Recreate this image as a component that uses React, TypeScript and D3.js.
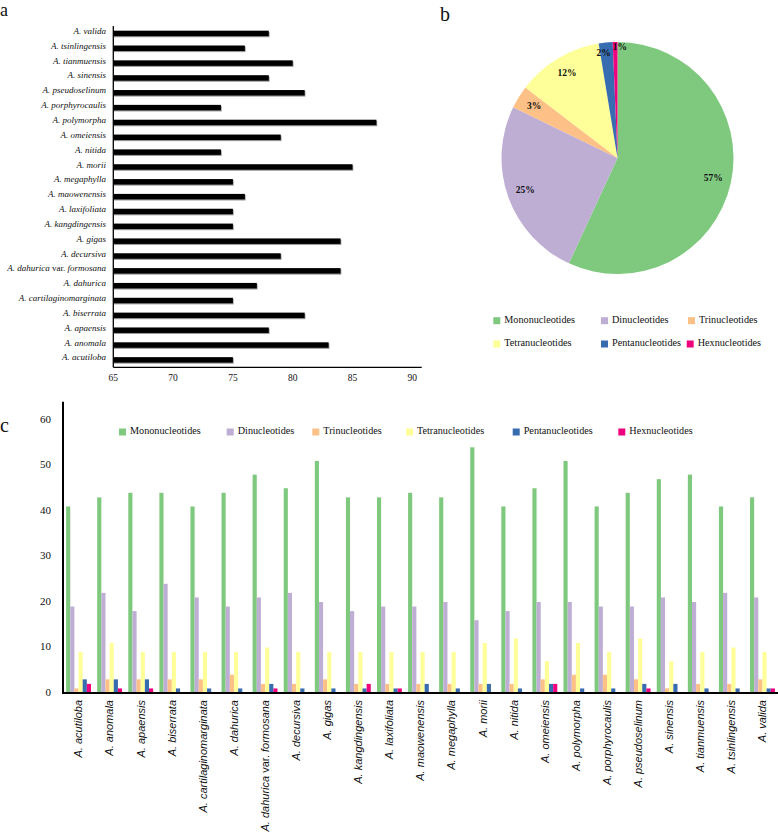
import React from 'react';
import * as d3 from 'd3';

// ---------- DATA ----------
const species = [
  'A. acutiloba', 'A. anomala', 'A. apaensis', 'A. biserrata', 'A. cartilaginomarginata',
  'A. dahurica', 'A. dahurica var. formosana', 'A. decursiva', 'A. gigas', 'A. kangdingensis',
  'A. laxifoliata', 'A. maowenensis', 'A. megaphylla', 'A. morii', 'A. nitida',
  'A. omeiensis', 'A. polymorpha', 'A. porphyrocaulis', 'A. pseudoselinum', 'A. sinensis',
  'A. tianmuensis', 'A. tsinlingensis', 'A. valida',
];
const totalSSR = [75, 83, 78, 81, 75, 77, 84, 79, 84, 75, 75, 76, 75, 85, 74, 79, 87, 74, 81, 78, 80, 76, 78];

const mononucleotides = [41, 43, 44, 44, 41, 44, 48, 45, 51, 43, 43, 44, 43, 54, 41, 45, 51, 41, 44, 47, 48, 41, 43];
const dinucleotides = [19, 22, 18, 24, 21, 19, 21, 22, 20, 18, 19, 19, 20, 16, 18, 20, 20, 19, 19, 21, 20, 22, 21];
const trinucleotides = [1, 3, 3, 3, 3, 4, 2, 2, 3, 2, 2, 2, 2, 2, 2, 3, 4, 4, 3, 1, 2, 2, 3];
const tetranucleotides = [9, 11, 9, 9, 9, 9, 10, 9, 9, 9, 9, 9, 9, 11, 12, 7, 11, 9, 12, 7, 9, 10, 9];
const pentanucleotides = [3, 3, 3, 1, 1, 1, 2, 1, 1, 1, 1, 2, 1, 2, 1, 2, 1, 1, 2, 2, 1, 1, 1];
const hexanucleotides = [2, 1, 1, 0, 0, 0, 1, 0, 0, 2, 1, 0, 0, 0, 0, 2, 0, 0, 1, 0, 0, 0, 1];

const motifTypes = ['Mononucleotides', 'Dinucleotides', 'Trinucleotides', 'Tetranucleotides', 'Pentanucleotides', 'Hexnucleotides'];
const motifSeries = [mononucleotides, dinucleotides, trinucleotides, tetranucleotides, pentanucleotides, hexanucleotides];

// pie: share of each motif type over all species
const pieValues = [1029, 458, 58, 217, 35, 12];
const pieLabels = ['57%', '25%', '3%', '12%', '2%', '1%'];

const xTicksA = [65, 70, 75, 80, 85, 90];
const yTicksC = [0, 10, 20, 30, 40, 50, 60];

const colors = d3.schemeAccent.slice(0, 6);

const SERIF = '"Liberation Serif", "Times New Roman", serif';
const SANS = '"Liberation Sans", Arial, sans-serif';

function SpeciesName({ name }: { name: string }) {
  const parts = name.split(' var. ');
  if (parts.length === 1) return <>{name}</>;
  return (
    <>
      <tspan>{parts[0]}</tspan>
      <tspan fontStyle="normal"> var. </tspan>
      <tspan>{parts[1]}</tspan>
    </>
  );
}

// ---------- PANEL A ----------
function PanelA() {
  const x = d3.scaleLinear().domain([65, 90]).range([113.3, 412.3]);
  const order = species.slice().reverse();
  const y = d3.scaleBand<string>().domain(order).range([26, 367.3]).paddingInner(0.63).paddingOuter(0.315);
  const axisY = 367.3;
  return (
    <g>
      {species.map((s, i) => (
        <g key={s}>
          <rect x={x(65)} y={(y(s) as number) + 1.1} width={x(totalSSR[i]) - x(65) + 0.8} height={y.bandwidth()} fill="#9a9a9a" />
          <rect x={x(65)} y={y(s) as number} width={x(totalSSR[i]) - x(65)} height={y.bandwidth()} fill="#000" />
          <text x={106} y={(y(s) as number) + y.bandwidth() / 2 - 1.5} textAnchor="end" dominantBaseline="middle"
            fontFamily={SERIF} fontStyle="italic" fontSize={9} fill="#111">
            <SpeciesName name={s} />
          </text>
        </g>
      ))}
      <line x1={x(65)} x2={x(65)} y1={26} y2={axisY} stroke="#000" strokeWidth={1.3} />
      <line x1={x(65)} x2={421.7} y1={axisY} y2={axisY} stroke="#000" strokeWidth={1.3} />
      {xTicksA.map(t => (
        <text key={t} x={x(t)} y={381} textAnchor="middle" fontFamily={SERIF} fontSize={9.5} fill="#111">{t}</text>
      ))}
    </g>
  );
}

// ---------- PANEL B ----------
function PanelB() {
  const cx = 617.5, cy = 158, r = 116;
  const pie = d3.pie<number>().sort(null).value(d => d).startAngle(0).endAngle(2 * Math.PI);
  const arcs = pie(pieValues);
  const arc = d3.arc<d3.PieArcDatum<number>>().innerRadius(0).outerRadius(r);
  const total = d3.sum(pieValues);
  const legendRows = [
    { y: 320.7, xs: [493.3, 601, 688] },
    { y: 344, xs: [493.3, 601, 686.7] },
  ];
  return (
    <g>
      <g transform={`translate(${cx},${cy})`}>
        {arcs.map((a, i) => (
          <path key={i} d={arc(a) as string} fill={colors[i]} />
        ))}
        {arcs.map((a, i) => {
          const mid = (a.startAngle + a.endAngle) / 2;
          const share = pieValues[i] / total;
          const small = share < 0.025;
          const lr = small ? r * (0.97 - 3.5 * share) : r * 0.845;
          const lx = Math.sin(mid) * lr;
          const anchor = small ? (Math.sin(mid) < -0.05 ? 'end' : 'start') : 'middle';
          return (
            <text key={'l' + i} x={small ? lx + (anchor === 'end' ? 4 : -2.5) : lx} y={-Math.cos(mid) * lr}
              textAnchor={anchor} dominantBaseline="middle"
              fontFamily={SERIF} fontWeight="bold" fontSize={9.5} fill="#111">{pieLabels[i]}</text>
          );
        })}
      </g>
      {motifTypes.map((m, i) => {
        const row = legendRows[Math.floor(i / 3)];
        const lx = row.xs[i % 3];
        return (
          <g key={m}>
            <rect x={lx} y={row.y - 3.5} width={7} height={7} fill={colors[i]} />
            <text x={lx + 11} y={row.y} dominantBaseline="middle" fontFamily={SERIF} fontSize={10.2} fill="#111">{m}</text>
          </g>
        );
      })}
    </g>
  );
}

// ---------- PANEL C ----------
function PanelC() {
  const x0 = d3.scaleBand<string>().domain(species).range([63, 778]).paddingInner(0.2).paddingOuter(0.1);
  const x1 = d3.scaleBand<string>().domain(motifTypes).range([0, x0.bandwidth()]);
  const y = d3.scaleLinear().domain([0, 60]).range([693, 420]);
  const legendXs = [119, 226.7, 312.3, 406, 512.7, 618.3];
  return (
    <g>
      {species.map((s, i) => (
        <g key={s} transform={`translate(${x0(s)},0)`}>
          {motifTypes.map((m, j) => {
            const v = motifSeries[j][i];
            if (v <= 0) return null;
            return <rect key={m} x={x1(m) as number} y={y(v)} width={x1.bandwidth()} height={y(0) - y(v)} fill={colors[j]} />;
          })}
        </g>
      ))}
      <line x1={63} x2={63} y1={y(64)} y2={y(0)} stroke="#000" strokeWidth={2} />
      <line x1={62} x2={778} y1={y(0)} y2={y(0)} stroke="#000" strokeWidth={2} />
      {yTicksC.map(t => (
        <text key={t} x={51} y={y(t)} textAnchor="end" dominantBaseline="middle" fontFamily={SERIF} fontSize={11} fill="#111">{t}</text>
      ))}
      {species.map(s => (
        <text key={'x' + s} transform={`translate(${(x0(s) as number) + x0.bandwidth() / 2},${700}) rotate(-90)`}
          textAnchor="end" dy="0.35em" fontFamily={SANS} fontStyle="italic" fontSize={11} fill="#111">
          <SpeciesName name={s} />
        </text>
      ))}
      {motifTypes.map((m, i) => (
        <g key={'lg' + m}>
          <rect x={legendXs[i]} y={432 - 3.5} width={7} height={7} fill={colors[i]} />
          <text x={legendXs[i] + 11} y={432} dominantBaseline="middle" fontFamily={SERIF} fontSize={10.2} fill="#111">{m}</text>
        </g>
      ))}
    </g>
  );
}

export default function App() {
  return (
    <svg width={778} height={837} viewBox="0 0 778 837" style={{ position: 'absolute', left: 0, top: 0, background: '#fff' }}>
      <rect x={0} y={0} width={778} height={837} fill="#fff" />
      <text x={0} y={16} fontFamily={SERIF} fontSize={18} fill="#111">a</text>
      <text x={440} y={21} fontFamily={SERIF} fontSize={20} fill="#111">b</text>
      <text x={0} y={432} fontFamily={SERIF} fontSize={20} fill="#111">c</text>
      <PanelA />
      <PanelB />
      <PanelC />
    </svg>
  );
}
